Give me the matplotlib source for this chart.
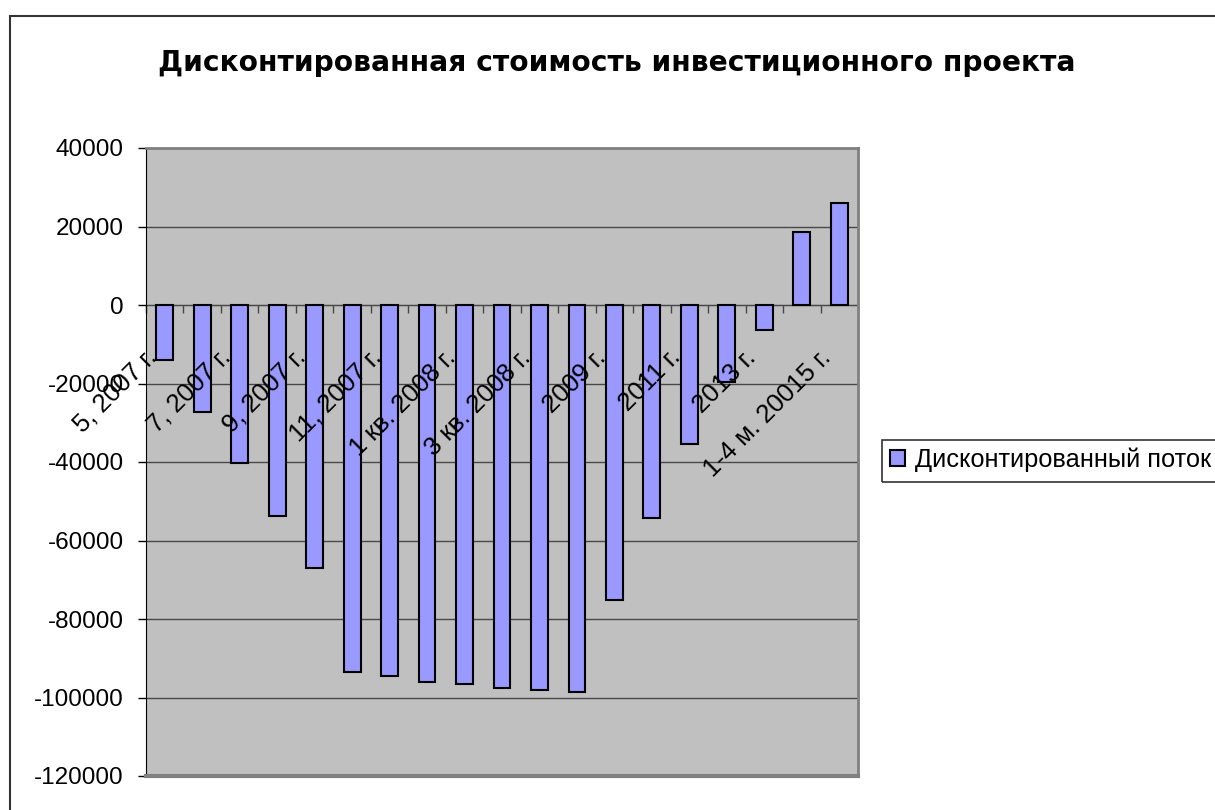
"""
Дисконтированная стоимость инвестиционного проекта - столбчатая диаграмма
"""

import matplotlib.pyplot as plt
import matplotlib.patches as mpatches
import numpy as np

plt.rcParams['font.family'] = ['Liberation Sans', 'DejaVu Sans']

# данные
periods = ['5, 2007 г.', '6, 2007 г.', '7, 2007 г.', '8, 2007 г.', '9, 2007 г.',
           '10, 2007 г.', '11, 2007 г.', '12, 2007 г.', '1 кв. 2008 г.',
           '2 кв. 2008 г.', '3 кв. 2008 г.', '4 кв. 2008 г.', '2009 г.',
           '2010 г.', '2011 г.', '2012 г.', '2013 г.', '2014 г.',
           '1-4 м. 20015 г.']
discounted_flow = [-14000, -27300, -40300, -53700, -67000, -93500, -94500,
                   -96000, -96600, -97600, -98100, -98600, -75200, -54200,
                   -35400, -19600, -6400, 18600, 26000]
y_ticks = [40000, 20000, 0, -20000, -40000, -60000, -80000, -100000, -120000]

title = 'Дисконтированная стоимость инвестиционного проекта'
series_name = 'Дисконтированный поток'

W, H = 1215, 810
fig = plt.figure(figsize=(W / 100, H / 100), dpi=100)

# рамка области диаграммы
fig.patches.append(mpatches.Rectangle((10 / W, -0.1), 1.2, 1.1 - 16 / H,
                                      transform=fig.transFigure, fill=False,
                                      edgecolor='#333333', linewidth=1.5))

ax = fig.add_axes([146 / W, 1 - 776 / H, 712 / W, 628 / H])
ax.set_facecolor('#C0C0C0')

x = np.arange(len(periods))
ax.bar(x, discounted_flow, width=0.45, color='#9999FF', edgecolor='black',
       linewidth=1.5, label=series_name, zorder=3)

ax.set_xlim(-0.5, len(periods) - 0.5)
ax.set_ylim(-120000, 40000)
ax.set_yticks(y_ticks)
ax.set_yticklabels([str(v) for v in y_ticks], fontsize=17.5)
ax.tick_params(axis='y', direction='out', length=6, width=1, pad=10)

# сетка
ax.grid(axis='y', color='#484848', linewidth=1, zorder=1)
ax.set_axisbelow(True)

# ось категорий проходит через ноль
ax.spines['bottom'].set_position(('data', 0))
ax.spines['bottom'].set_color('#484848')
ax.spines['bottom'].set_zorder(2)
ax.set_xticks(np.arange(-0.5, len(periods), 1.0))
ax.set_xticklabels([])
ax.tick_params(axis='x', direction='out', length=6, width=1, color='#484848')

for s in ['top', 'right']:
    ax.spines[s].set_color('#808080')
    ax.spines[s].set_linewidth(2)
ax.spines['left'].set_color('black')
ax.axhline(-120000, color='#808080', linewidth=3, clip_on=False, zorder=5)

# подписи категорий (через одну, как в Excel)
for i in range(0, len(periods), 2):
    ax.annotate(periods[i], xy=(i, 0), xytext=(-15, -29),
                textcoords='offset points', rotation=45,
                rotation_mode='anchor', ha='right', va='top', fontsize=18.5,
                zorder=6)

# заголовок: подгоняем ширину под оригинал (~915 px)
t = fig.text(617 / W, 1 - 63 / H, title, ha='center', va='center',
             fontsize=19, fontweight='bold', family='DejaVu Sans')
fig.canvas.draw()
w = t.get_window_extent().width
t.set_fontsize(19 * 915 / w)

# легенда (рамка уходит за правый край, как в оригинале)
leg = ax.legend(loc='upper left', bbox_to_anchor=(882 / W, 1 - 440 / H),
                bbox_transform=fig.transFigure, fontsize=18.3, frameon=False,
                borderpad=0.3, handlelength=0.6, handleheight=0.6,
                handletextpad=0.4, borderaxespad=0)
fig.patches.append(mpatches.Rectangle((882 / W, 1 - 482 / H), 0.5, 42 / H,
                                      transform=fig.transFigure, fill=False,
                                      edgecolor='#333333', linewidth=1.2))

plt.savefig('out.png', dpi=100)
plt.close()
